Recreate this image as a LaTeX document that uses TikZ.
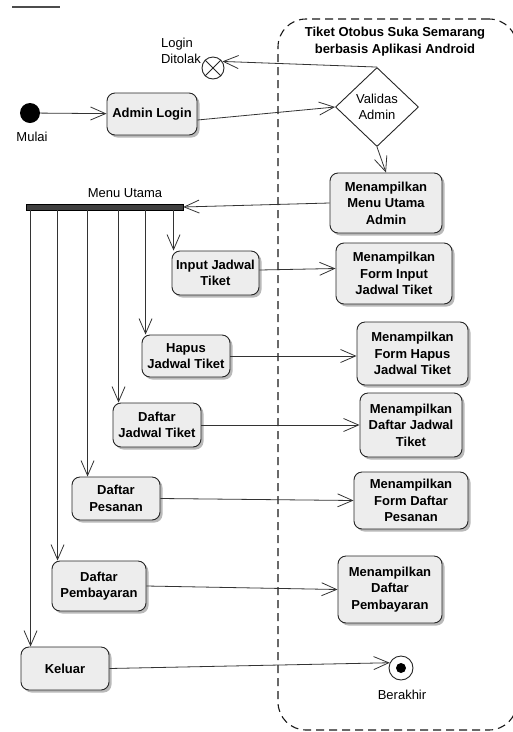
\documentclass[tikz,border=0pt]{standalone}
\usepackage{fontspec}
\setmainfont{Liberation Sans}
\usetikzlibrary{arrows.meta,shapes.geometric,shadows}
\newcommand\actfont{\bfseries\fontsize{13}{16.5}\selectfont}
\newcommand\lblfont{\fontsize{13}{16.5}\selectfont}
\begin{document}
\begin{tikzpicture}[x=1pt,y=-1pt,
  act/.style={draw=black!85, line width=0.9pt, rounded corners=8pt, fill=gray!14,
    align=center, font=\actfont, inner sep=0pt,
    drop shadow={shadow xshift=2.5pt, shadow yshift=-2.5pt, fill=gray!55, opacity=1}},
  decision/.style={diamond, draw=black!85, line width=0.9pt, fill=white, align=center,
    font=\lblfont, inner sep=0pt},
  flow/.style={draw=black!80, line width=0.8pt,
    -{Straight Barb[length=15pt,width=13pt,line width=0.8pt]}},
  lbl/.style={font=\lblfont, align=center, inner sep=0pt},
  forkbar/.style={rectangle, draw=black, fill=black!75, inner sep=0pt,
    minimum width=157pt, minimum height=6pt},
  lane/.style={rectangle, draw=black!90, line width=1.1pt, dash pattern=on 8pt off 5pt,
    rounded corners=28pt, inner sep=0pt}]
\useasboundingbox (0,0) rectangle (513,732);

% stray rule at the top
\coordinate (ruleA) at (12,7);
\coordinate (ruleB) at (60,7);
\draw[black!70, line width=1.2pt] (ruleA) -- (ruleB);

% system partition (its right side lies just past the page edge)
\node[lane, minimum width=239pt, minimum height=711pt] (sys) at (397.5,374.5) {};
\node[lbl, font=\actfont] (systitle) at (395,41.5) {Tiket Otobus Suka Semarang\\berbasis Aplikasi Android};

% start, login and validation
\node[circle, fill=black, minimum size=20pt, inner sep=0pt] (start) at (30,113) {};
\node[lbl] (startlbl) at (32,137) {Mulai};
\node[act, minimum width=90pt, minimum height=42pt] (login) at (152,114) {Admin Login};
\node[decision, minimum width=83pt, minimum height=79pt] (valid) at (377,107) {Validas\\Admin};
\node[circle, draw=black!85, line width=0.9pt, fill=white, minimum size=22pt, inner sep=0pt] (rej) at (213,68) {};
\draw[black!85, line width=0.9pt] (rej.45) -- (rej.225) (rej.135) -- (rej.315);
\node[lbl, align=left, anchor=east] (rejlbl) at (201,51) {Login\\Ditolak};

% main menu
\node[act, minimum width=112pt, minimum height=60pt] (menuadm) at (386,203) {Menampilkan\\Menu Utama\\Admin};
\node[forkbar] (bar) at (104.5,207) {};
\node[lbl] (barlbl) at (125,193) {Menu Utama};

% menu actions
\node[act, minimum width=87pt, minimum height=44pt] (input) at (215.5,273) {Input Jadwal\\Tiket};
\node[act, minimum width=116pt, minimum height=61pt] (finput) at (394,273.5) {Menampilkan\\Form Input\\Jadwal Tiket};
\node[act, minimum width=88pt, minimum height=42pt] (hapus) at (186,356) {Hapus\\Jadwal Tiket};
\node[act, minimum width=111pt, minimum height=63pt] (fhapus) at (412.5,353.5) {Menampilkan\\Form Hapus\\Jadwal Tiket};
\node[act, minimum width=88pt, minimum height=44pt] (djadwal) at (157,425) {Daftar\\Jadwal Tiket};
\node[act, minimum width=102pt, minimum height=64pt] (tjadwal) at (411,425) {Menampilkan\\Daftar Jadwal\\Tiket};
\node[act, minimum width=88pt, minimum height=43pt] (pesanan) at (116,498.5) {Daftar\\Pesanan};
\node[act, minimum width=114pt, minimum height=57pt] (fpesanan) at (411,500.5) {Menampilkan\\Form Daftar\\Pesanan};
\node[act, minimum width=94pt, minimum height=50pt] (bayar) at (99,586) {Daftar\\Pembayaran};
\node[act, minimum width=104pt, minimum height=67pt] (tbayar) at (390,589.5) {Menampilkan\\Daftar\\Pembayaran};
\node[act, minimum width=88pt, minimum height=43pt] (keluar) at (65,668.5) {Keluar};

% end
\node[circle, draw=black!85, line width=0.9pt, fill=white, minimum size=24pt, inner sep=0pt] (end) at (401,668) {};
\fill[black] (end.center) circle (5pt);
\node[lbl] (endlbl) at (402,695) {Berakhir};

% branch entry points
\coordinate (eInput) at ([xshift=2pt]input.north west);
\coordinate (eHapus) at ([xshift=4pt]hapus.north west);
\coordinate (eJadwal) at ([xshift=6pt]djadwal.north west);
\coordinate (ePesanan) at ([xshift=16pt]pesanan.north west);
\coordinate (eBayar) at ([xshift=6pt]bayar.north west);
\coordinate (eKeluar) at ([xshift=10pt]keluar.north west);

% connectors
\draw[flow] (start) -- (login);
\draw[flow] ([yshift=-6pt]login.east) -- (valid.west);
\draw[flow] (valid.north) -- (rej.35);
\draw[flow] (valid.south) -- (menuadm.north);
\draw[flow] (menuadm.west) -- (bar.east);

\draw[flow] (bar.south -| eInput) -- (eInput);
\draw[flow] (bar.south -| eHapus) -- (eHapus);
\draw[flow] (bar.south -| eJadwal) -- (eJadwal);
\draw[flow] (bar.south -| ePesanan) -- (ePesanan);
\draw[flow] (bar.south -| eBayar) -- (eBayar);
\draw[flow] (bar.south -| eKeluar) -- (eKeluar);

\draw[flow] ([yshift=3pt]input.east) -- ([yshift=5pt]finput.west);
\draw[flow] (hapus.east) -- (hapus.east -| fhapus.west);
\draw[flow] (djadwal.east) -- (tjadwal.west);
\draw[flow] (pesanan.east) -- (fpesanan.west);
\draw[flow] (bayar.east) -- (tbayar.west);
\draw[flow] (keluar.east) -- (end.155);
\end{tikzpicture}
\end{document}
